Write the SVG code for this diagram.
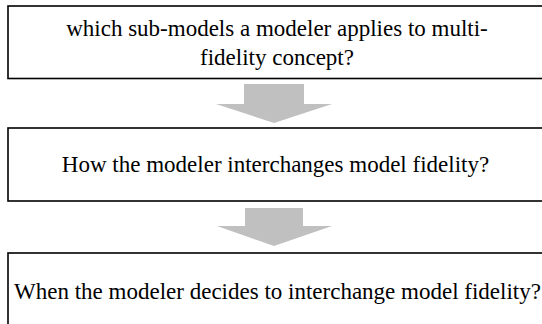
<svg xmlns="http://www.w3.org/2000/svg" width="542" height="324" viewBox="0 0 542 324">
<style>
.box{fill:#fff;stroke:#000;stroke-width:1.6}
.arr{fill:#c0c0c0}
</style>
<rect x="0" y="0" width="542" height="324" fill="#fff"/>
<g font-family="'Liberation Serif', serif" font-size="23" fill="#000" text-anchor="middle">
<g id="node1">
<rect class="box" x="8" y="6" width="545" height="72.5"/>
<text x="277" y="36">which sub-models a modeler applies to multi-</text>
<text x="277" y="65">fidelity concept?</text>
</g>
<g id="node2">
<rect class="box" x="8" y="128" width="545" height="73"/>
<text x="275.5" y="172">How the modeler interchanges model fidelity?</text>
</g>
<g id="node3">
<rect class="box" x="8" y="253" width="545" height="80"/>
<text x="277.5" y="299">When the modeler decides to interchange model fidelity?</text>
</g>
</g>
<g id="connectors">
<polygon class="arr" points="244,84 304,84 304,104 332,104 274,123 216,104 244,104"/>
<polygon class="arr" points="245,208 303,208 303,226 332,226 274,246 217,226 245,226"/>
</g>
</svg>
